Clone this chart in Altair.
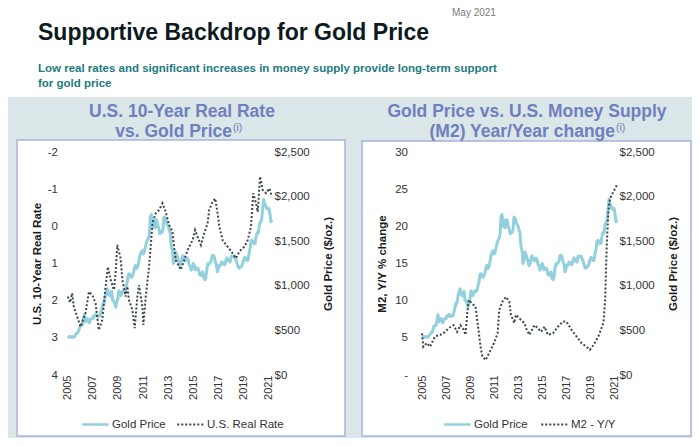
import altair as alt
import pandas as pd

# ---------------- data ----------------
gold_monthly = [
    424, 423, 434, 429, 422, 431, 424, 438, 456, 470, 476, 510,          # 2005
    549, 555, 557, 610, 676, 596, 633, 632, 598, 586, 627, 629,          # 2006
    631, 665, 655, 679, 667, 655, 665, 665, 712, 754, 806, 803,          # 2007
    889, 922, 968, 909, 888, 889, 939, 839, 829, 806, 760, 816,          # 2008
    858, 943, 924, 890, 928, 945, 934, 949, 996, 1043, 1127, 1135,       # 2009
    1118, 1095, 1114, 1148, 1205, 1232, 1193, 1215, 1271, 1343, 1370, 1391,  # 2010
    1356, 1372, 1424, 1474, 1510, 1528, 1572, 1780, 1800, 1665, 1739, 1652,  # 2011
    1656, 1742, 1674, 1650, 1585, 1596, 1594, 1630, 1770, 1760, 1721, 1688,  # 2012
    1671, 1627, 1593, 1440, 1400, 1250, 1300, 1380, 1349, 1316, 1275, 1225,  # 2013
    1244, 1300, 1336, 1299, 1287, 1279, 1311, 1296, 1239, 1222, 1176, 1200,  # 2014
    1251, 1227, 1179, 1198, 1199, 1181, 1128, 1117, 1125, 1157, 1086, 1068,  # 2015
    1097, 1199, 1246, 1242, 1260, 1276, 1337, 1341, 1326, 1267, 1238, 1157,  # 2016
    1192, 1234, 1231, 1266, 1246, 1260, 1236, 1283, 1314, 1280, 1283, 1265,  # 2017
    1331, 1331, 1325, 1335, 1303, 1282, 1238, 1202, 1198, 1215, 1220, 1250,  # 2018
    1291, 1320, 1300, 1285, 1284, 1359, 1413, 1500, 1510, 1495, 1471, 1480,  # 2019
    1560, 1597, 1592, 1683, 1716, 1732, 1846, 1968, 1921, 1900, 1866, 1858,  # 2020
    1867, 1808, 1718, 1740,                                              # 2021
]

rate_years = [
    2005.02, 2005.20, 2005.37, 2005.50, 2005.77, 2006.04, 2006.17, 2006.43, 2006.70,
    2006.97, 2007.23, 2007.49, 2007.76, 2008.03, 2008.21, 2008.43, 2008.69, 2008.82,
    2008.96, 2009.22, 2009.36, 2009.62, 2009.76, 2009.88, 2010.16, 2010.34, 2010.55,
    2010.68, 2010.95, 2011.03, 2011.22, 2011.48, 2011.61, 2011.75, 2012.01, 2012.27,
    2012.55, 2012.81, 2013.07, 2013.34, 2013.47, 2013.61, 2014.00, 2014.27, 2014.54,
    2014.94, 2015.14, 2015.33, 2015.60, 2015.86, 2016.13, 2016.26, 2016.53, 2016.74,
    2016.93, 2017.06, 2017.33, 2017.73, 2018.12, 2018.39, 2018.65, 2019.05, 2019.32,
    2019.58, 2019.76, 2019.98, 2020.12, 2020.30, 2020.51, 2020.78, 2021.04, 2021.25,
]
rate_values = [
    1.89, 2.05, 1.80, 2.16, 2.43, 2.70, 2.57, 2.34, 1.76,
    1.85, 2.07, 2.79, 2.52, 1.62, 1.09, 1.44, 1.71, 1.26,
    0.50, 0.86, 1.44, 1.89, 1.62, 1.98, 2.25, 2.74, 1.89,
    1.58, 2.16, 2.65, 1.89, 1.09, 0.55, -0.08, -0.35, -0.44,
    -0.62, -0.38, -0.04, 0.14, 0.55, 0.91, 1.17, 0.91, 0.64,
    0.37, 0.10, 0.28, 0.50, 0.19, -0.08, -0.44, -0.66, -0.75,
    -0.35, 0.01, 0.37, 0.55, 0.73, 0.86, 0.68, 0.55, 0.37,
    0.01, -0.89, -0.62, -0.39, -1.34, -0.98, -0.89, -1.02, -0.80,
]

m2_years = [
    2005.00, 2005.11, 2005.40, 2005.67, 2006.09, 2006.52, 2006.94, 2007.21, 2007.63,
    2007.92, 2008.20, 2008.48, 2008.62, 2008.77, 2008.90, 2009.18, 2009.46, 2009.60,
    2009.88, 2010.03, 2010.30, 2010.58, 2011.00, 2011.30, 2011.43, 2011.71, 2011.99,
    2012.27, 2012.41, 2012.69, 2012.83, 2013.25, 2013.53, 2013.67, 2013.95, 2014.37,
    2014.65, 2014.93, 2015.21, 2015.49, 2015.91, 2016.33, 2016.75, 2017.03, 2017.45,
    2017.87, 2018.29, 2018.71, 2018.99, 2019.28, 2019.70, 2020.12, 2020.26, 2020.40,
    2020.54, 2020.68, 2020.97, 2021.25,
]
m2_values = [
    5.6, 3.8, 4.3, 3.8, 5.2, 5.4, 5.8, 6.3, 6.7,
    5.8, 6.7, 6.1, 5.4, 8.3, 10.1, 9.6, 9.2, 7.4,
    3.8, 2.5, 2.0, 2.9, 4.3, 5.6, 8.7, 9.9, 10.5,
    9.9, 8.1, 7.0, 8.1, 7.4, 7.0, 6.3, 5.4, 6.7,
    6.3, 5.8, 6.5, 5.4, 5.6, 6.5, 7.2, 7.2, 6.1,
    5.2, 4.3, 3.8, 3.4, 4.0, 5.2, 7.0, 10.1, 17.7,
    22.2, 23.8, 24.7, 25.6,
]

x_tick_years = [2005, 2007, 2009, 2011, 2013, 2015, 2017, 2019, 2021]
rate_ticks = [-2, -1, 0, 1, 2, 3, 4]
m2_ticks = [0, 5, 10, 15, 20, 25, 30]
gold_ticks = [0, 500, 1000, 1500, 2000, 2500]

gold_df = pd.DataFrame({
    "year": [2005 + i / 12 for i in range(len(gold_monthly))],
    "gold": gold_monthly,
    "series": "Gold Price",
})
rate_df = pd.DataFrame({"year": rate_years, "rate": rate_values, "series": "U.S. Real Rate"})
m2_df = pd.DataFrame({"year": m2_years, "m2": m2_values, "series": "M2 - Y/Y"})

# ---------------- styling ----------------
W, H = 684, 430          # svg size (page is 700x446 with 8px margins)
M = 8                    # page margin
GOLD = "#93d0dd"
DOT = "#3a474d"
BAND = "#dbe6e8"
PANEL_BORDER = "#a9b2dc"
PANEL_TITLE = "#6f7fbf"
TITLE_COLOR = "#0d1b1f"
SUB_COLOR = "#1d7a81"
SANS = "Liberation Sans, Arial, sans-serif"
X_DOMAIN = [2005, 2021.25]
Y_TOP, Y_BOT = 152 - M, 375 - M
LABEL_KW = dict(labelFont=SANS, labelFontSize=11.5, labelColor="#333333",
                titleFont=SANS, titleFontSize=11.5, titleFontWeight="bold", titleColor="#1a1a1a",
                grid=False, domain=False, ticks=False, tickSize=0, zindex=2)


def deco():
    return alt.Chart(alt.Data(values=[{}]))


def text(t, x, y, size, color, weight="normal", align="left", font=SANS, baseline="alphabetic"):
    return deco().mark_text(
        text=t, align=align, baseline=baseline, font=font, fontSize=size,
        fontWeight=weight, color=color,
    ).encode(x=alt.value(x), y=alt.value(y))


def rect(x, x2, y, y2, fill, stroke=None, sw=0):
    kw = dict(fill=fill, strokeWidth=sw)
    if stroke:
        kw["stroke"] = stroke
    return deco().mark_rect(**kw).encode(
        x=alt.value(x), x2=alt.value(x2), y=alt.value(y), y2=alt.value(y2)
    )


def legend(x, y, dash=None):
    kw = dict(
        orient="none", legendX=x, legendY=y, title=None, padding=0,
        symbolType="stroke", symbolSize=700, symbolStrokeWidth=2.5 if dash is None else 2,
        labelFont=SANS, labelFontSize=11.5, labelColor="#333333", labelOffset=2, zindex=2,
    )
    if dash is not None:
        kw["symbolDash"] = dash
    return alt.Legend(**kw)


def x_enc(r0, r1, show):
    if show:
        ax = alt.Axis(orient="bottom", values=x_tick_years, format="d", labelAngle=270,
                      offset=373 - M - H, labelPadding=2, title=None, labelFontSize=11,
                      **{k: v for k, v in LABEL_KW.items() if k != "labelFontSize"})
    else:
        ax = None
    return alt.X("year:Q", scale=alt.Scale(domain=X_DOMAIN, range=[r0, r1], nice=False, zero=False),
                 axis=ax)


def gold_layer(xr0, xr1, axis_x, title_x, leg_x):
    return alt.Chart(gold_df).mark_line(strokeWidth=3, strokeJoin="round").encode(
        x=x_enc(xr0, xr1, True),
        y=alt.Y("gold:Q", scale=alt.Scale(domain=[0, 2500], range=[Y_BOT, Y_TOP], nice=False),
                axis=alt.Axis(orient="right", values=gold_ticks, format="$,.0f", offset=axis_x - W,
                              labelPadding=2, title="Gold Price ($/oz.)", titleAngle=270,
                              titleX=title_x, titleY=(Y_TOP + Y_BOT) / 2, titleAlign="center",
                              titleBaseline="middle", **LABEL_KW)),
        color=alt.Color("series:N", scale=alt.Scale(range=[GOLD]), legend=legend(leg_x, 402)),
    )


# left panel: real rate (dotted)
rate_layer = alt.Chart(rate_df).mark_line(strokeWidth=2, strokeDash=[2, 2]).encode(
    x=x_enc(59.5, 264, False),
    y=alt.Y("rate:Q", scale=alt.Scale(domain=[-2, 4], range=[Y_TOP, Y_BOT], nice=False, zero=False),
            axis=alt.Axis(orient="left", values=rate_ticks, labelExpr="'' + datum.value",
                          offset=-(57.5 - M),
                          labelPadding=0, title="U.S. 10-Year Real Rate", titleAngle=270,
                          titleX=-20.5, titleY=(Y_TOP + Y_BOT) / 2, titleAlign="center",
                          titleBaseline="middle", **LABEL_KW)),
    color=alt.Color("series:N", scale=alt.Scale(range=[DOT]), legend=legend(168, 402, [2, 2])),
)

# right panel: M2 y/y (dotted)
m2_layer = alt.Chart(m2_df).mark_line(strokeWidth=2, strokeDash=[2, 2]).encode(
    x=x_enc(414, 609, False),
    y=alt.Y("m2:Q", scale=alt.Scale(domain=[0, 30], range=[Y_BOT, Y_TOP], nice=False),
            axis=alt.Axis(orient="left", values=m2_ticks, offset=-(407.5 - M), labelPadding=0,
                          labelExpr="datum.value == 0 ? '-' : datum.label",
                          title="M2, Y/Y % change", titleAngle=270,
                          titleX=-25.5, titleY=(Y_TOP + Y_BOT) / 2, titleAlign="center",
                          titleBaseline="middle", **LABEL_KW)),
    color=alt.Color("series:N", scale=alt.Scale(range=[DOT]), legend=legend(532, 402, [2, 2])),
)

left_gold = gold_layer(59.5, 264, 272 - M, 56, 73)
right_gold = gold_layer(414, 609, 617 - M, 56, 435)

decorations = [
    rect(0, W, 0, 97 - M, "white"),
    rect(17 - M, 345 - M, 140 - M, 428, "white", PANEL_BORDER, 1.5),
    rect(362 - M, 683, 141 - M, 428, "white", PANEL_BORDER, 1.5),
    text("May 2021", 452 - M, 0, 10, "#7a7a7a", baseline="top"),
    text("Supportive Backdrop for Gold Price", 38 - M, 40 - M, 23, TITLE_COLOR, "bold"),
    text("Low real rates and significant increases in money supply provide long-term support",
         38 - M, 72 - M, 11.5, SUB_COLOR, "bold"),
    text("for gold price", 38 - M, 87 - M, 11.5, SUB_COLOR, "bold"),
    text("U.S. 10-Year Real Rate", 182 - M, 117 - M, 17.5, PANEL_TITLE, "bold", "center"),
    text("vs. Gold Price", 232 - M, 137 - M, 17.5, PANEL_TITLE, "bold", "right"),
    text("(i)", 233 - M, 131 - M, 10.5, PANEL_TITLE, "normal", "left"),
    text("Gold Price vs. U.S. Money Supply", 527 - M, 117 - M, 17.5, PANEL_TITLE, "bold", "center"),
    text("(M2) Year/Year change", 615 - M, 137 - M, 17.5, PANEL_TITLE, "bold", "right"),
    text("(i)", 616 - M, 131 - M, 10.5, PANEL_TITLE, "normal", "left"),
]

chart = alt.layer(
    *decorations, left_gold, rate_layer, right_gold, m2_layer
).resolve_scale(
    x="independent", y="independent", color="independent"
).resolve_axis(
    x="independent", y="independent"
).resolve_legend(
    color="independent"
).properties(
    width=W, height=H, padding=0, background=BAND,
    autosize=alt.AutoSizeParams(type="none"),
).configure_view(
    stroke=None
)

chart.save("out.html", embed_options={"renderer": "svg", "actions": False})
